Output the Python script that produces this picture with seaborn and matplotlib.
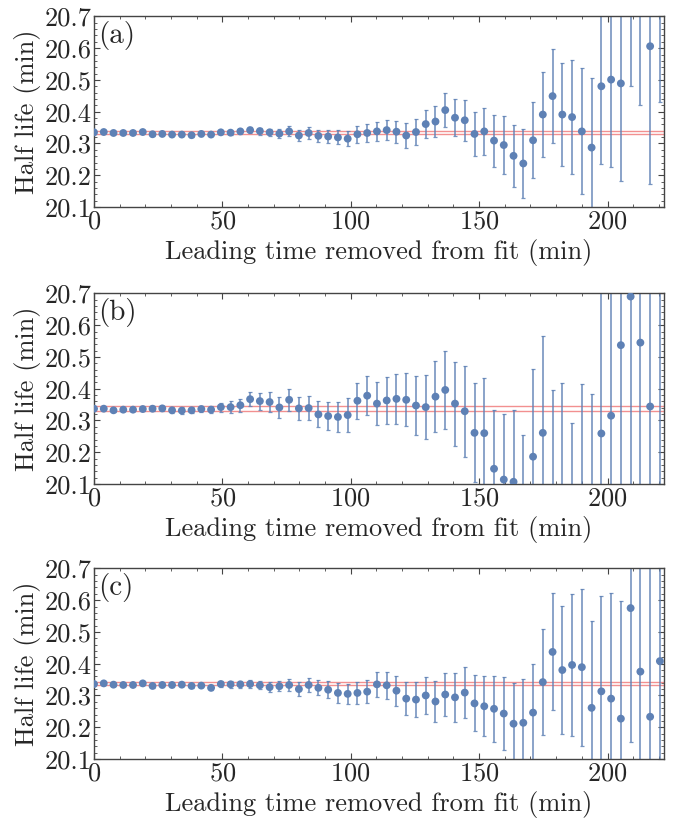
import numpy as np
import pandas as pd
import matplotlib
matplotlib.use("Agg")
import matplotlib.pyplot as plt
import seaborn as sns
from matplotlib.ticker import MultipleLocator

# ---------------- data ----------------
step_min = 3.8
n_points = 59
leading_time = [round(i * step_min, 2) for i in range(n_points)]

half_life_a = [20.335, 20.336, 20.333, 20.333, 20.333, 20.336, 20.329, 20.330, 20.328, 20.328,
               20.326, 20.330, 20.328, 20.335, 20.334, 20.338, 20.342, 20.339, 20.335, 20.331,
               20.338, 20.325, 20.333, 20.324, 20.322, 20.319, 20.315, 20.329, 20.333, 20.338,
               20.342, 20.337, 20.325, 20.336, 20.361, 20.369, 20.405, 20.381, 20.373, 20.330,
               20.338, 20.309, 20.295, 20.261, 20.237, 20.310, 20.391, 20.449, 20.391, 20.383,
               20.338, 20.287, 20.480, 20.501, 20.489, 20.820, 20.800, 20.606, 20.900]
err_a = [0.004, 0.004, 0.004, 0.004, 0.004, 0.004, 0.004, 0.004, 0.004, 0.004,
         0.005, 0.005, 0.005, 0.005, 0.006, 0.008, 0.010, 0.011, 0.012, 0.014,
         0.016, 0.017, 0.018, 0.019, 0.021, 0.022, 0.023, 0.026, 0.028, 0.029,
         0.032, 0.035, 0.038, 0.042, 0.045, 0.050, 0.054, 0.058, 0.064, 0.069,
         0.075, 0.082, 0.090, 0.098, 0.108, 0.120, 0.133, 0.147, 0.162, 0.180,
         0.198, 0.219, 0.246, 0.274, 0.307, 0.340, 0.380, 0.434, 0.470]

half_life_b = [20.337, 20.337, 20.332, 20.334, 20.334, 20.336, 20.337, 20.338, 20.332, 20.331,
               20.332, 20.336, 20.334, 20.342, 20.342, 20.348, 20.367, 20.361, 20.358, 20.341,
               20.365, 20.338, 20.339, 20.319, 20.314, 20.311, 20.317, 20.362, 20.378, 20.353,
               20.363, 20.368, 20.365, 20.347, 20.342, 20.375, 20.396, 20.353, 20.329, 20.261,
               20.260, 20.148, 20.114, 20.107, 20.008, 20.186, 20.261, 20.061, 20.054, 19.892,
               19.975, 19.902, 20.259, 20.315, 20.537, 20.690, 20.545, 20.344, 20.900]
err_b = [0.005, 0.005, 0.005, 0.005, 0.005, 0.005, 0.008, 0.008, 0.010, 0.010,
         0.010, 0.010, 0.011, 0.014, 0.018, 0.021, 0.023, 0.027, 0.031, 0.032,
         0.034, 0.036, 0.039, 0.041, 0.045, 0.048, 0.053, 0.057, 0.061, 0.067,
         0.073, 0.078, 0.084, 0.093, 0.101, 0.112, 0.122, 0.132, 0.143, 0.156,
         0.174, 0.186, 0.206, 0.225, 0.245, 0.276, 0.306, 0.335, 0.365, 0.400,
         0.440, 0.480, 0.530, 0.580, 0.640, 0.700, 0.770, 0.850, 0.950]

half_life_c = [20.336, 20.338, 20.334, 20.333, 20.333, 20.338, 20.330, 20.333, 20.333, 20.334,
               20.330, 20.331, 20.324, 20.336, 20.335, 20.335, 20.336, 20.332, 20.326, 20.329,
               20.333, 20.320, 20.333, 20.324, 20.318, 20.308, 20.305, 20.308, 20.312, 20.335,
               20.332, 20.315, 20.290, 20.287, 20.300, 20.281, 20.303, 20.294, 20.309, 20.275,
               20.266, 20.258, 20.243, 20.211, 20.214, 20.246, 20.342, 20.437, 20.380, 20.396,
               20.389, 20.261, 20.313, 20.290, 20.227, 20.575, 20.375, 20.233, 20.408]
err_c = [0.004, 0.004, 0.004, 0.004, 0.004, 0.004, 0.005, 0.005, 0.005, 0.005,
         0.005, 0.005, 0.008, 0.009, 0.010, 0.011, 0.012, 0.013, 0.015, 0.016,
         0.019, 0.023, 0.023, 0.024, 0.026, 0.031, 0.032, 0.034, 0.037, 0.040,
         0.043, 0.047, 0.051, 0.055, 0.059, 0.063, 0.069, 0.076, 0.081, 0.088,
         0.095, 0.104, 0.114, 0.127, 0.139, 0.152, 0.167, 0.184, 0.202, 0.223,
         0.247, 0.272, 0.300, 0.332, 0.369, 0.420, 0.470, 0.520, 0.580]

band_a = [20.3405, 20.3310]
band_b = [20.3440, 20.3300]
band_c = [20.3420, 20.3330]

panel_labels = ["(a)", "(b)", "(c)"]
x_label = "Leading time removed from fit (min)"
y_label = "Half life (min)"

# ---------------- style ----------------
sns.set_style("ticks")
plt.rcParams["font.family"] = ["cmr10", "DejaVu Serif"]
plt.rcParams["mathtext.fontset"] = "cm"
plt.rcParams["axes.formatter.use_mathtext"] = True

point_color = "#5E81B5"
band_color = "#F29090"
frame_color = "#444444"
fs = 19

fig = plt.figure(figsize=(6.75, 8.27), dpi=100)
left, width, height = 94 / 675, 570 / 675, 0.2305
bottoms = [1 - 207 / 827, 1 - 484 / 827, 1 - 759 / 827]

datasets = [(half_life_a, err_a, band_a), (half_life_b, err_b, band_b), (half_life_c, err_c, band_c)]

for k, (vals, errs, band) in enumerate(datasets):
    ax = fig.add_axes([left, bottoms[k], width, height])
    df = pd.DataFrame({"t": leading_time, "hl": vals, "err": errs})
    for yv in band:
        ax.axhline(yv, color=band_color, lw=1.0, zorder=1)
    ax.errorbar(df["t"], df["hl"], yerr=df["err"], fmt="none", ecolor=point_color,
                elinewidth=1.2, capsize=1.6, capthick=0.9, alpha=0.85, zorder=2)
    sns.scatterplot(data=df, x="t", y="hl", ax=ax, color=point_color, s=32,
                    edgecolor="none", linewidth=0, zorder=3, legend=False)
    ax.set_xlim(0, 222)
    ax.set_ylim(20.1, 20.7)
    ax.xaxis.set_major_locator(MultipleLocator(50))
    ax.xaxis.set_minor_locator(MultipleLocator(10))
    ax.yaxis.set_major_locator(MultipleLocator(0.1))
    ax.yaxis.set_minor_locator(MultipleLocator(0.02))
    ax.set_yticklabels([f"{v:.1f}" for v in ax.get_yticks()])
    ax.tick_params(which="both", direction="in", top=True, right=True,
                   color=frame_color, labelsize=fs, pad=2)
    ax.tick_params(which="major", length=4, width=0.8)
    ax.tick_params(which="minor", length=2, width=0.6)
    for sp in ax.spines.values():
        sp.set_color(frame_color)
        sp.set_linewidth(1.0)
    ax.set_xlabel(x_label, fontsize=fs, labelpad=4)
    ax.set_ylabel(y_label, fontsize=fs, labelpad=2)
    ax.text(0.008, 0.975, panel_labels[k], transform=ax.transAxes, fontsize=fs + 2,
            ha="left", va="top")

fig.savefig("out.png", dpi=100)
